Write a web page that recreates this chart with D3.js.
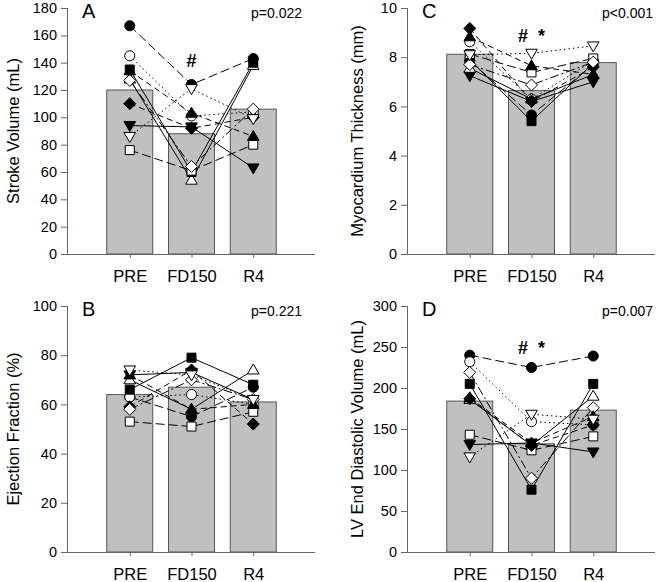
<!DOCTYPE html>
<html>
<head>
<meta charset="utf-8">
<script src="https://cdn.jsdelivr.net/npm/d3@7/dist/d3.min.js"></script>
<style>
  html, body { margin: 0; padding: 0; background: #fff; }
  svg { display: block; font-family: "Liberation Sans", Arial, sans-serif; }
</style>
</head>
<body>
<svg id="chart" width="656" height="582"></svg>
<script>
// Time points
const categories = ['PRE', 'FD150', 'R4'];

// Group means (bars)
const svMeans = [120, 88, 106];
const efMeans = [64, 67, 61];
const mtMeans = [8.12, 6.64, 7.78];
const edvMeans = [184, 132, 173];

// Individual subjects, one row per subject: [PRE, FD150, R4]
const svSubjects = [
    [167, 124, 143],
    [145, 101, 104],
    [94, 93, 63],
    [128, 54, 138],
    [135, 60, 140],
    [76, 61, 80],
    [110, 92, 100],
    [127, 64, 106],
    [134, 103, 86],
    [86, 121, 99]
];
const efSubjects = [
    [63, 55, 67],
    [63, 64, 60],
    [72, 73, 62],
    [70, 58, 74],
    [66, 79, 68],
    [53, 51, 57],
    [59, 74, 52],
    [58, 70, 62],
    [72, 58, 60],
    [74, 72, 62]
];
const mtSubjects = [
    [7.85, 5.65, 7.7],
    [8.63, 6.3, 7.85],
    [7.25, 6.2, 7.0],
    [7.55, 6.3, 7.3],
    [7.9, 5.4, 7.75],
    [8.13, 7.38, 7.95],
    [9.17, 6.2, 7.6],
    [7.7, 6.87, 7.8],
    [8.83, 7.65, 7.3],
    [8.1, 8.16, 8.46]
];
const edvSubjects = [
    [240, 225, 239],
    [232, 159, 155],
    [131, 133, 122],
    [186, 130, 190],
    [205, 76, 205],
    [143, 124, 141],
    [187, 130, 155],
    [219, 90, 176],
    [188, 133, 165],
    [116, 168, 162]
];

// Axis ticks
const svTicks = [0, 20, 40, 60, 80, 100, 120, 140, 160, 180];
const efTicks = [0, 20, 40, 60, 80, 100];
const mtTicks = [0, 2, 4, 6, 8, 10];
const edvTicks = [0, 50, 100, 150, 200, 250, 300];

// Symbol + line style per subject (SigmaPlot-like sequence)
const subjectStyle = [
    { shape: 'circle', fill: '#000', dash: '9,4' },
    { shape: 'circle', fill: '#fff', dash: '1.5,3' },
    { shape: 'triDown', fill: '#000', dash: null },
    { shape: 'triUp', fill: '#fff', dash: null },
    { shape: 'square', fill: '#000', dash: null },
    { shape: 'square', fill: '#fff', dash: '9,4' },
    { shape: 'diamond', fill: '#000', dash: '6,4' },
    { shape: 'diamond', fill: '#fff', dash: '9,3,2,3' },
    { shape: 'triUp', fill: '#000', dash: '6,4' },
    { shape: 'triDown', fill: '#fff', dash: '1.5,3' }
];

const panels = [
    { left: 68, top: 8, max: 180, ticks: svTicks, means: svMeans, subjects: svSubjects,
      label: 'Stroke Volume (mL)', letter: 'A', p: 'p=0.022', mark: '#', markY: 59, labelX: 13 },
    { left: 68, top: 306, max: 100, ticks: efTicks, means: efMeans, subjects: efSubjects,
      label: 'Ejection Fraction (%)', letter: 'B', p: 'p=0.221', mark: null, labelX: 13 },
    { left: 408, top: 8, max: 10, ticks: mtTicks, means: mtMeans, subjects: mtSubjects,
      label: 'Myocardium Thickness (mm)', letter: 'C', p: 'p<0.001', mark: '#  *', markY: 34, labelX: 357 },
    { left: 408, top: 306, max: 300, ticks: edvTicks, means: edvMeans, subjects: edvSubjects,
      label: 'LV End Diastolic Volume (mL)', letter: 'D', p: 'p=0.007', mark: '#  *', markY: 48, labelX: 357 }
];

const plotW = 247;
const plotH = 246;
const axisColor = '#666';

const svg = d3.select('#chart');

function symbolPath(shape) {
    if (shape === 'circle') return d3.symbol(d3.symbolCircle, 80)();
    if (shape === 'square') return 'M-4.5,-4.5H4.5V4.5H-4.5Z';
    if (shape === 'diamond') return 'M0,-6L6,0L0,6L-6,0Z';
    if (shape === 'triUp') return 'M0,-6L5.8,4L-5.8,4Z';
    if (shape === 'triDown') return 'M0,6L5.8,-4L-5.8,-4Z';
    return '';
}

panels.forEach(p => {
    const g = svg.append('g').attr('transform', `translate(${p.left},${p.top})`);

    const x = d3.scalePoint().domain(categories).range([0, plotW]).padding(1);
    const y = d3.scaleLinear().domain([0, p.max]).range([plotH, 0]);
    const barW = x.step() * 0.745;

    // Bars
    g.append('g')
        .selectAll('rect')
        .data(p.means)
        .join('rect')
        .attr('x', (d, i) => x(categories[i]) - barW / 2)
        .attr('y', d => y(d))
        .attr('width', barW)
        .attr('height', d => plotH - y(d))
        .attr('fill', '#c0c0c0')
        .attr('stroke', '#555')
        .attr('stroke-width', 1);

    // Y axis
    const yAxis = g.append('g')
        .call(d3.axisLeft(y).tickValues(p.ticks).tickSize(7).tickPadding(4));
    yAxis.select('.domain').attr('stroke', axisColor).attr('d', `M-0.5,${plotH}V0`);
    yAxis.selectAll('.tick line').attr('stroke', axisColor);
    yAxis.selectAll('.tick text')
        .attr('font-size', 14.5)
        .attr('fill', '#000')
        .attr('font-family', '"Liberation Sans", Arial, sans-serif');

    // X axis
    const xAxis = g.append('g')
        .attr('transform', `translate(0,${plotH})`)
        .call(d3.axisBottom(x).tickSize(4).tickPadding(12));
    xAxis.select('.domain').attr('stroke', axisColor).attr('d', `M0,0.5H${plotW}`);
    xAxis.selectAll('.tick line').attr('stroke', axisColor);
    xAxis.selectAll('.tick text')
        .attr('font-size', 16.5)
        .attr('fill', '#000')
        .attr('font-family', '"Liberation Sans", Arial, sans-serif');

    // Subject lines
    const line = d3.line()
        .x((d, i) => x(categories[i]))
        .y(d => y(d));

    g.append('g')
        .selectAll('path')
        .data(p.subjects)
        .join('path')
        .attr('d', d => line(d))
        .attr('fill', 'none')
        .attr('stroke', '#000')
        .attr('stroke-width', 1)
        .attr('stroke-dasharray', (d, i) => subjectStyle[i].dash);

    // Subject markers
    const pts = [];
    p.subjects.forEach((row, si) => row.forEach((v, ci) => pts.push({ si, ci, v })));
    g.append('g')
        .selectAll('path')
        .data(pts)
        .join('path')
        .attr('transform', d => `translate(${x(categories[d.ci])},${y(d.v)})`)
        .attr('d', d => symbolPath(subjectStyle[d.si].shape))
        .attr('fill', d => subjectStyle[d.si].fill)
        .attr('stroke', '#000')
        .attr('stroke-width', 1);

    // Panel letter
    g.append('text')
        .attr('x', 14)
        .attr('y', 10)
        .attr('font-size', 20)
        .attr('fill', '#000')
        .text(p.letter);

    // p value
    g.append('text')
        .attr('x', plotW - 13 + (p.left > 300 ? 11 : 0))
        .attr('y', 10)
        .attr('text-anchor', 'end')
        .attr('font-size', 14)
        .attr('fill', '#000')
        .text(p.p);

    // Significance marks
    if (p.mark) {
        g.append('text')
            .attr('x', x('FD150'))
            .attr('y', p.markY)
            .attr('text-anchor', 'middle')
            .attr('font-size', 18)
            .attr('font-weight', 'bold')
            .attr('fill', '#000')
            .style('white-space', 'pre')
            .text(p.mark);
    }

    // Y label
    svg.append('text')
        .attr('transform', `translate(${p.labelX},${p.top + plotH / 2}) rotate(-90)`)
        .attr('text-anchor', 'middle')
        .attr('dy', '0.35em')
        .attr('font-size', 16.5)
        .attr('fill', '#000')
        .text(p.label);
});
</script>
</body>
</html>
